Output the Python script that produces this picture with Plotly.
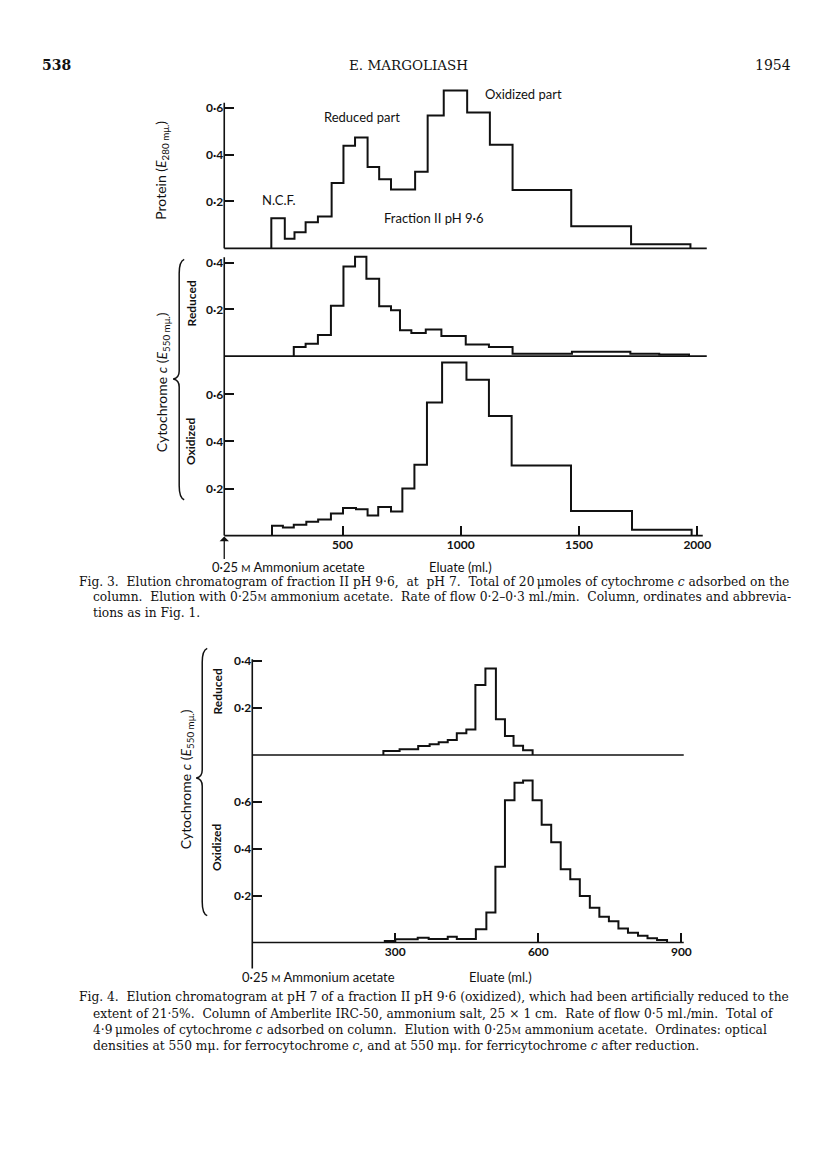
import plotly.graph_objects as go

W, H = 816, 1164
KX = 1.011  # small horizontal correction measured against the reference

# ── Fig. 3 data: fraction edges (ml) and optical densities ───────────────────
f3_prot_ml = [199, 256, 297, 344, 396, 454, 504, 553, 606, 655, 705, 807, 860,
              928, 1027, 1123, 1219, 1467, 1720, 1971]
f3_prot_E = [0.129, 0.041, 0.069, 0.111, 0.136, 0.279, 0.438, 0.473, 0.347, 0.295,
             0.251, 0.327, 0.567, 0.674, 0.580, 0.442, 0.249, 0.094, 0.018]

f3_red_ml = [294, 344, 396, 451, 504, 553, 601, 655, 705, 743, 791, 852, 918,
             1021, 1119, 1219, 1470, 1717, 1839, 1965]
f3_red_E = [0.039, 0.053, 0.090, 0.216, 0.384, 0.426, 0.331, 0.214, 0.196, 0.111,
            0.099, 0.114, 0.086, 0.050, 0.039, 0.010, 0.019, 0.010, 0.007]

f3_ox_ml = [202, 248, 294, 347, 397, 451, 502, 557, 606, 651, 705, 753, 804, 857,
            921, 1024, 1119, 1215, 1466, 1724, 1976]
f3_ox_E = [0.042, 0.035, 0.046, 0.059, 0.069, 0.094, 0.117, 0.112, 0.085, 0.122,
           0.103, 0.200, 0.301, 0.566, 0.736, 0.662, 0.508, 0.298, 0.105, 0.025]

# ── Fig. 4 data ──────────────────────────────────────────────────────────────
f4_red_ml = [275, 309, 348, 372, 391, 410, 429, 449, 468, 489, 511, 530, 548, 568, 588]
f4_red_E = [0.017, 0.025, 0.038, 0.046, 0.054, 0.064, 0.093, 0.109, 0.298, 0.368,
            0.152, 0.081, 0.040, 0.020]

f4_ox_ml = [278, 300, 347, 370, 410, 429, 469, 491, 510, 530, 550, 568, 588, 607,
            627, 647, 667, 687, 708, 728, 748, 768, 788, 809, 829, 849, 870]
f4_ox_E = [0.007, 0.014, 0.021, 0.015, 0.025, 0.015, 0.057, 0.128, 0.323, 0.607,
           0.682, 0.691, 0.607, 0.503, 0.428, 0.313, 0.270, 0.199, 0.149, 0.110,
           0.091, 0.060, 0.042, 0.029, 0.018, 0.011]

f3_xticks = [500, 1000, 1500, 2000]
f4_xticks = [300, 600, 900]
yticks = [0.2, 0.4, 0.6]

SANS = "Lato, Open Sans, sans-serif"
SERIF = "DejaVu Serif, serif"
INK = "#111111"


def px(x):
    return x * KX / W


def py(y):
    return 1 - y / H


def steps(edges, vals):
    xs = [edges[0]] + edges[:-1] + [edges[-1]]
    ys = [0] + vals + [0]
    return xs, ys


fig = go.Figure()

# (name, edges, values, x px span, x range, baseline px, px per unit, ymax, xticks)
panels = [
    ("", f3_prot_ml, f3_prot_E, (224, 706), 2040, 246, 235.0, 0.70, None),
    ("2", f3_red_ml, f3_red_E, (224, 706), 2040, 354, 234.0, 0.45, None),
    ("3", f3_ox_ml, f3_ox_E, (224, 706), 2040, 534, 236.0, 0.76, f3_xticks),
    ("4", f4_red_ml, f4_red_E, (252, 683), 905, 754, 236.0, 0.42, None),
    ("5", f4_ox_ml, f4_ox_E, (252, 683), 905, 942, 235.0, 0.76, f4_xticks),
]

layout_axes = {}
for name, edges, vals, (xl, xr), xmax, base, ppu, ymax, xt in panels:
    xs, ys = steps(edges, vals)
    fig.add_trace(go.Scatter(
        x=xs, y=ys, mode="lines", line=dict(shape="hv", color=INK, width=2),
        xaxis="x" + name, yaxis="y" + name, showlegend=False, hoverinfo="skip",
    ))
    top = base - ymax * ppu
    yv = [v for v in yticks if v <= ymax]
    layout_axes["xaxis" + name] = dict(
        domain=[px(xl), px(xr)], range=[0, xmax], anchor="y" + name,
        showgrid=False, zeroline=False, showline=False,
        ticks="inside" if xt else "", ticklen=10, tickwidth=1.5, tickcolor=INK,
        tickvals=xt or [], showticklabels=bool(xt),
        tickfont=dict(family=SANS, size=12, color=INK, weight="bold"),
    )
    layout_axes["yaxis" + name] = dict(
        domain=[py(base), py(top)], range=[0, ymax], anchor="x" + name,
        showgrid=False, zeroline=False, showline=False,
        ticks="inside", ticklen=10, tickwidth=1.5, tickcolor=INK,
        tickvals=yv, ticktext=[f"{v:.1f}".replace(".", "\u00b7") for v in yv],
        tickfont=dict(family=SANS, size=12, color=INK, weight="bold"),
    )

shapes = []


def hline(x0, x1, y, w=1.6):
    shapes.append(dict(type="line", xref="paper", yref="paper", x0=px(x0), x1=px(x1),
                       y0=py(y), y1=py(y), line=dict(color=INK, width=w)))


def vline(x, y0, y1, w=1.6):
    shapes.append(dict(type="line", xref="paper", yref="paper", x0=px(x), x1=px(x),
                       y0=py(y0), y1=py(y1), line=dict(color=INK, width=w)))


def brace(x, top, mid, bot, depth=6):
    xo, xi = x + 5, x - depth
    path = (f"M {px(xo)},{py(top)} Q {px(x)},{py(top + 2)} {px(x)},{py(top + 14)} "
            f"L {px(x)},{py(mid - 8)} Q {px(x)},{py(mid - 1)} {px(xi)},{py(mid)} "
            f"Q {px(x)},{py(mid + 1)} {px(x)},{py(mid + 8)} "
            f"L {px(x)},{py(bot - 14)} Q {px(x)},{py(bot - 2)} {px(xo)},{py(bot)}")
    shapes.append(dict(type="path", xref="paper", yref="paper", path=path,
                       line=dict(color=INK, width=1.5)))


# Fig. 3 frame
vline(224, 100, 246)
hline(224, 706, 246)
vline(224, 255, 534)
hline(224, 706, 354)
hline(224, 702, 534)
brace(179, 257, 377, 498)

# Fig. 4 frame
vline(252, 658, 968)
hline(252, 683, 754)
hline(252, 683, 942)
brace(202, 647, 777, 915)

ann = []


def txt(x, y, text, size=13, xanchor="left", angle=0, family=SANS, weight=None):
    f = dict(family=family, size=size, color=INK)
    if weight:
        f["weight"] = weight
    ann.append(dict(xref="paper", yref="paper", x=px(x), y=py(y), text=text,
                    showarrow=False, xanchor=xanchor, yanchor="middle",
                    textangle=angle, font=f))


# header
txt(40, 62, "<b>538</b>", 14, family=SERIF)
txt(408, 62, "E. MARGOLIASH", 13.5, "center", family=SERIF)
txt(792, 62, "1954", 14, "right", family=SERIF)

# Fig. 3 labels
txt(322, 114, "Reduced part", 13)
txt(482, 91, "Oxidized part", 13)
txt(260, 198, "N.C.F.", 13)
txt(382, 216, "Fraction II pH 9\u00b76", 13)
txt(161, 168, "Protein (<i>E</i><sub>280 m\u03bc.</sub>)", 14, "center", -90)
txt(162, 380, "Cytochrome <i>c</i> (<i>E</i><sub>550 m\u03bc.</sub>)", 14, "center", -90)
txt(191, 301, "<b>Reduced</b>", 12, "center", -90)
txt(191, 439, "<b>Oxidized</b>", 12, "center", -90)
txt(210, 565, "0\u00b725 <span style='font-size:10px'>M</span> Ammonium acetate", 13)
txt(460, 565, "Eluate (ml.)", 13, "center")
ann.append(dict(xref="paper", yref="paper", x=px(224), y=py(535), ax=0, ay=24,
                text="", showarrow=True, arrowhead=1, arrowsize=1.2, arrowwidth=1.3,
                arrowcolor=INK))

# Fig. 4 labels
txt(187, 778, "Cytochrome <i>c</i> (<i>E</i><sub>550 m\u03bc.</sub>)", 14, "center", -90)
txt(217, 690, "<b>Reduced</b>", 12, "center", -90)
txt(217, 846, "<b>Oxidized</b>", 12, "center", -90)
txt(240, 977, "0\u00b725 <span style='font-size:10px'>M</span> Ammonium acetate", 13)
txt(500, 977, "Eluate (ml.)", 13, "center")

# captions
cap3 = [
    "Fig. 3.  Elution chromatogram of fraction II pH 9\u00b76,  at  pH 7.  Total of 20\u2009\u03bcmoles of cytochrome <i>c</i> adsorbed on the",
    "column.  Elution with 0\u00b725<span style='font-size:9px'>M</span> ammonium acetate.  Rate of flow 0\u00b72\u20130\u00b73 ml./min.  Column, ordinates and abbrevia-",
    "tions as in Fig. 1.",
]
cap4 = [
    "Fig. 4.  Elution chromatogram at pH 7 of a fraction II pH 9\u00b76 (oxidized), which had been artificially reduced to the",
    "extent of 21\u00b75%.  Column of Amberlite IRC-50, ammonium salt, 25 \u00d7 1 cm.  Rate of flow 0\u00b75 ml./min.  Total of",
    "4\u00b79\u2009\u03bcmoles of cytochrome <i>c</i> adsorbed on column.  Elution with 0\u00b725<span style='font-size:9px'>M</span> ammonium acetate.  Ordinates: optical",
    "densities at 550 m\u03bc. for ferrocytochrome <i>c</i>, and at 550 m\u03bc. for ferricytochrome <i>c</i> after reduction.",
]
for i, line in enumerate(cap3):
    txt(77 if i == 0 else 91, 580 + 16 * i, line, 12.25, family=SERIF)
for i, line in enumerate(cap4):
    txt(77 if i == 0 else 91, 997 + 16.3 * i, line, 12.25, family=SERIF)

fig.update_layout(
    width=W, height=H, margin=dict(l=0, r=0, t=0, b=0),
    paper_bgcolor="white", plot_bgcolor="rgba(0,0,0,0)",
    shapes=shapes, annotations=ann, showlegend=False,
    **layout_axes,
)

fig.write_html(
    "out.html",
    config={"displayModeBar": False},
    post_script="document.body.style.margin='0';document.body.style.overflow='hidden';",
)
